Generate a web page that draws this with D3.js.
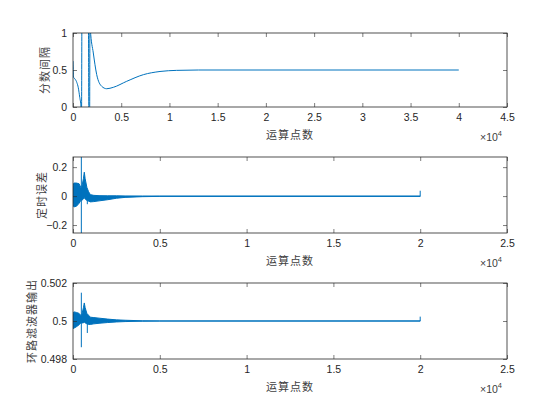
<!DOCTYPE html>
<html>
<head>
<meta charset="utf-8">
<script src="https://cdn.jsdelivr.net/npm/d3@7"></script>
<style>
  body { margin: 0; background: #fff; }
  .tick text { font-family: Arial, "Liberation Sans", sans-serif; font-size: 10.5px; fill: #262626; }
  .lab { font-family: "Noto Sans CJK SC", sans-serif; font-size: 11px; fill: #404040; }
</style>
</head>
<body>
<div id="graph"></div>
<script>
// plot 1: fractional interval
const muX = [0, 60, 200, 400, 550, 700, 830, 880, 930, 1050, 1500, 1600, 1650, 1720, 1760, 1800,
  2106, 2454, 2972, 3494, 4181, 5566, 7300, 9021, 10750, 13000, 40000];
const muY = [0.62, 0.40, 0.38, 0.33, 0.26, 0.13, 0, -0.3, 1.4, 1.8, 1.6, 1.2, -0.3, -0.3, 1.3, 1.05,
  0.73, 0.44, 0.28, 0.247, 0.266, 0.347, 0.437, 0.48, 0.495, 0.5, 0.5];

// plot 2: timing error envelope (dense oscillation)
const envX = [0, 50, 200, 350, 450, 480, 500, 600, 650, 700, 800, 900, 1000, 1200, 1500, 2000, 2500, 3000, 4000, 5000, 20000];
const errHi = [0.07, 0.09, 0.09, 0.085, 0.06, 0.05, 0.06, 0.12, 0.165, 0.12, 0.06, 0.03, 0.01, 0.005, 0.003, 0.002, 0.002, 0.001, 0.0005, 0.0003, 0.0003];
const errLo = [-0.05, -0.075, -0.07, -0.05, -0.03, -0.02, -0.03, -0.02, -0.01, -0.02, -0.03, -0.035, -0.04, -0.038, -0.033, -0.025, -0.015, -0.009, -0.004, -0.002, -0.002];
const errSpikeX = [480, 825, 20000];
const errSpikeA = [-0.4, -0.056, 0];
const errSpikeB = [0.4, 0.02, 0.037];

// plot 3: loop filter output envelope
const filtHi = [0.50035, 0.50048, 0.50045, 0.5004, 0.5003, 0.5002, 0.5003, 0.5007, 0.50095, 0.5007, 0.5004, 0.5003, 0.5002, 0.50018, 0.50015, 0.5001, 0.50006, 0.50004, 0.50001, 0.500005, 0.500005];
const filtLo = [0.4996, 0.49962, 0.4997, 0.4998, 0.4999, 0.4999, 0.4999, 0.4999, 0.49995, 0.4999, 0.49985, 0.49982, 0.49982, 0.49985, 0.49988, 0.49992, 0.49995, 0.49997, 0.49999, 0.499995, 0.499995];
const filtSpikeX = [480, 825, 20000];
const filtSpikeA = [0.49862, 0.49937, 0.5];
const filtSpikeB = [0.50149, 0.50026, 0.50023];

const xTicks1 = [0, 5000, 10000, 15000, 20000, 25000, 30000, 35000, 40000, 45000];
const xTicks2 = [0, 5000, 10000, 15000, 20000, 25000];

const blue = "#0072BD";
const left = 73, right = 507;

const svg = d3.select("#graph").append("svg")
  .attr("width", 560).attr("height", 420);

function panel(id, top, bottom, xMax, xTicks, yDom, yTicks, yFmt, ylabel, ylabelX) {
  const x = d3.scaleLinear().domain([0, xMax]).range([left, right]);
  const y = d3.scaleLinear().domain(yDom).range([bottom, top]);
  const g = svg.append("g");

  g.append("defs").append("clipPath").attr("id", "clip" + id)
    .append("rect").attr("x", left).attr("y", top).attr("width", right - left).attr("height", bottom - top);

  const plot = g.append("g").attr("clip-path", "url(#clip" + id + ")");

  const tl = 4;
  const fmtX = d => d === 0 ? "0" : d3.format("~g")(d / 10000);
  g.append("g").attr("transform", "translate(0," + bottom + ")")
    .call(d3.axisBottom(x).tickValues(xTicks).tickFormat(fmtX).tickSizeInner(-tl).tickSizeOuter(0).tickPadding(7));
  g.append("g").attr("transform", "translate(0," + top + ")")
    .call(d3.axisTop(x).tickValues(xTicks).tickFormat("").tickSizeInner(-tl).tickSizeOuter(0));
  g.append("g").attr("transform", "translate(" + left + ",0)")
    .call(d3.axisLeft(y).tickValues(yTicks).tickFormat(yFmt).tickSizeInner(-tl).tickSizeOuter(0).tickPadding(6));
  g.append("g").attr("transform", "translate(" + right + ",0)")
    .call(d3.axisRight(y).tickValues(yTicks).tickFormat("").tickSizeInner(-tl).tickSizeOuter(0));
  g.selectAll(".domain").remove();
  g.selectAll(".tick line").attr("stroke", "#262626").attr("stroke-width", 0.6);

  g.append("rect").attr("x", left).attr("y", top).attr("width", right - left).attr("height", bottom - top)
    .attr("fill", "none").attr("stroke", "#262626").attr("stroke-width", 0.8);

  g.append("text").attr("class", "lab").attr("x", 290).attr("y", bottom + 32)
    .attr("text-anchor", "middle").attr("letter-spacing", "1px").text("运算点数");
  const e = g.append("text").attr("class", "lab").attr("x", 480).attr("y", bottom + 34)
    .style("font-family", "Arial, 'Liberation Sans', sans-serif").style("font-size", "10.5px");
  e.append("tspan").text("×10");
  e.append("tspan").attr("dy", -5).style("font-size", "7.5px").text("4");

  g.append("text").attr("class", "lab")
    .attr("transform", "translate(" + ylabelX + "," + ((top + bottom) / 2) + ") rotate(-90)")
    .attr("text-anchor", "middle").attr("letter-spacing", "1px").text(ylabel);

  return { x, y, plot };
}

// panel 1
const p1 = panel(1, 33, 107, 45000, xTicks1, [0, 1], [0, 0.5, 1], d3.format("~g"), "分数间隔", 49);
p1.plot.append("path")
  .datum(muX.map((d, i) => [d, muY[i]]))
  .attr("fill", "none").attr("stroke", blue).attr("stroke-width", 1)
  .attr("d", d3.line().x(d => p1.x(d[0])).y(d => p1.y(d[1])).curve(d3.curveMonotoneX));

function band(p, hi, lo, sx, sa, sb) {
  const area = d3.area().x((d, i) => p.x(envX[i])).y0((d, i) => p.y(lo[i])).y1((d, i) => p.y(hi[i]));
  p.plot.append("path").datum(envX)
    .attr("fill", blue).attr("stroke", blue).attr("stroke-width", 1)
    .attr("d", area);
  p.plot.selectAll(".spike").data(sx).enter().append("line")
    .attr("x1", d => p.x(d)).attr("x2", d => p.x(d))
    .attr("y1", (d, i) => p.y(sa[i])).attr("y2", (d, i) => p.y(sb[i]))
    .attr("stroke", blue).attr("stroke-width", 1);
}

// panel 2
const p2 = panel(2, 157, 233, 25000, xTicks2, [-0.255, 0.27], [-0.2, 0, 0.2], d3.format("~g"), "定时误差", 46);
band(p2, errHi, errLo, errSpikeX, errSpikeA, errSpikeB);

// panel 3
const p3 = panel(3, 283, 359, 25000, xTicks2, [0.498, 0.502], [0.498, 0.5, 0.502], d3.format("~g"), "环路滤波器输出", 36);
band(p3, filtHi, filtLo, filtSpikeX, filtSpikeA, filtSpikeB);
</script>
</body>
</html>
